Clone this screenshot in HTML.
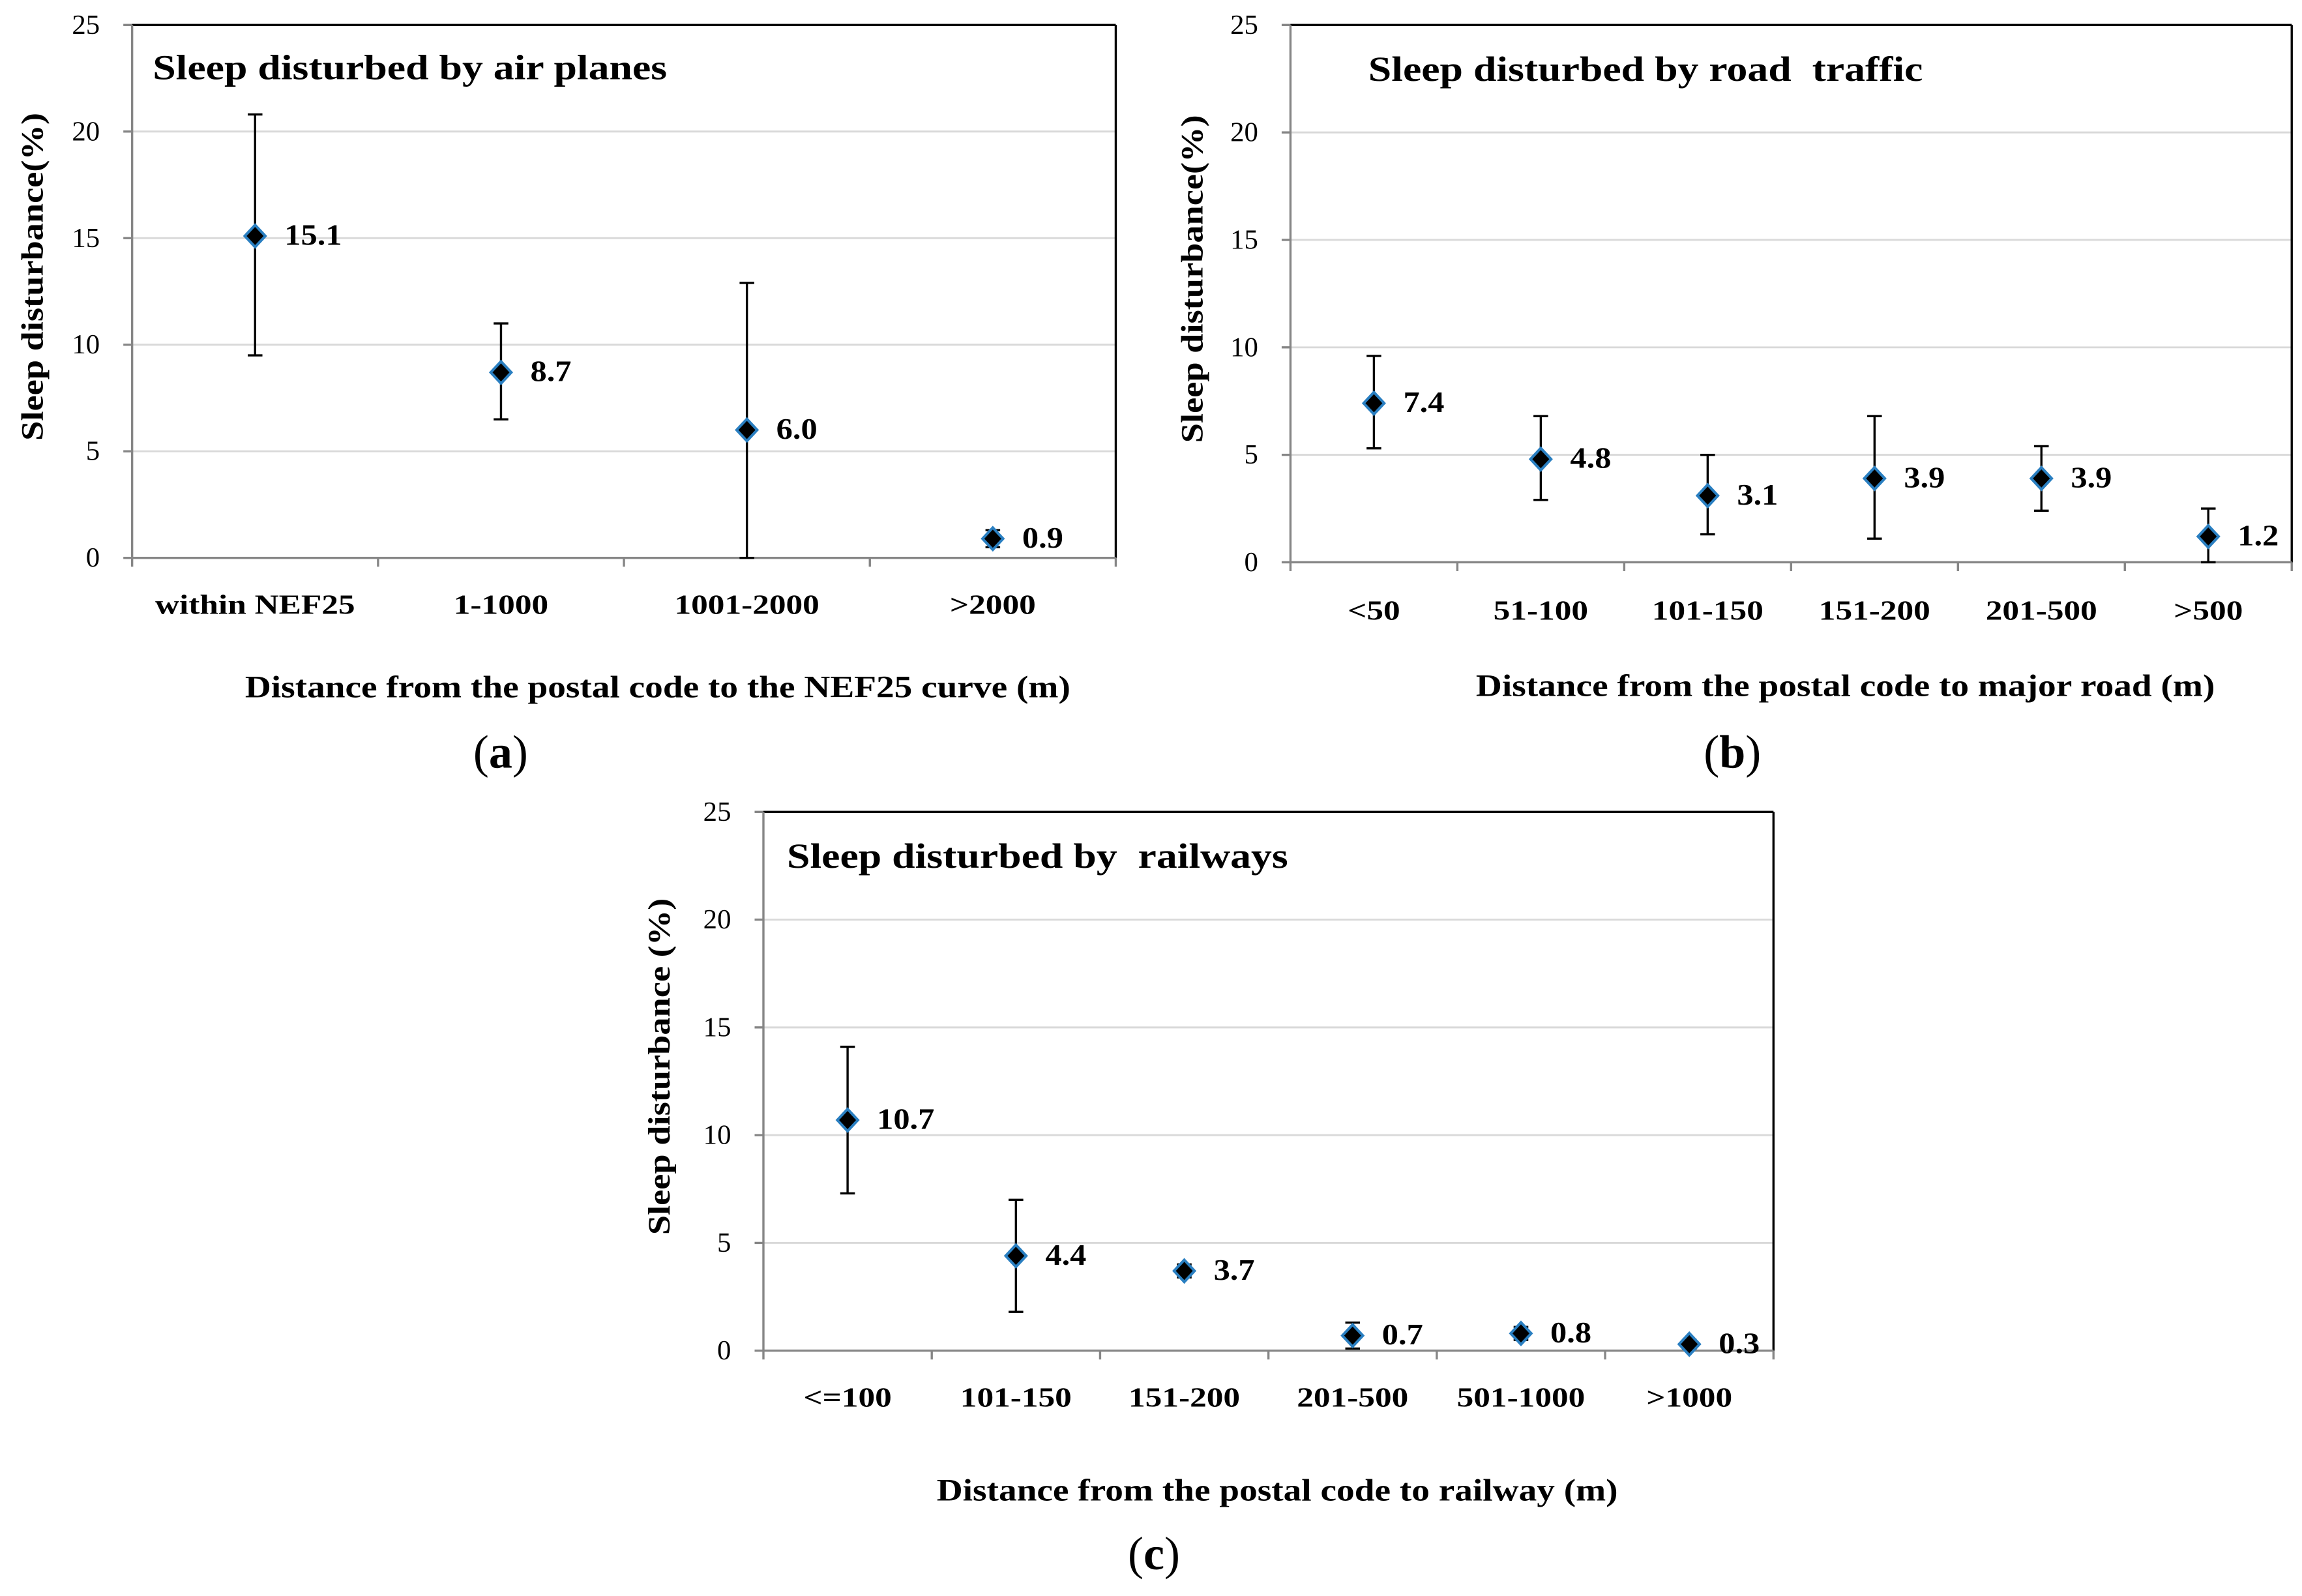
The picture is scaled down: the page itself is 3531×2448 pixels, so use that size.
<!DOCTYPE html>
<html><head><meta charset="utf-8"><style>
html,body{margin:0;padding:0;background:#fff;}
svg{display:block;}
text{font-family:"Liberation Serif",serif;fill:#000;white-space:pre;}
</style></head><body>
<svg id="fig" width="3531" height="2448" viewBox="0 0 1568 1087.1" preserveAspectRatio="none" xmlns="http://www.w3.org/2000/svg"></svg>
<script>
// Panel (a) data
const catsA = ["within NEF25","1-1000","1001-2000",">2000"];
const valsA = [15.1, 8.7, 6.0, 0.9];
const lowA = [9.5, 6.5, 0, 0.5];
const highA = [20.8, 11.0, 12.9, 1.3];
const labelsA = ["15.1","8.7","6.0","0.9"];
// Panel (b) data
const catsB = ["<50","51-100","101-150","151-200","201-500",">500"];
const valsB = [7.4, 4.8, 3.1, 3.9, 3.9, 1.2];
const lowB = [5.3, 2.9, 1.3, 1.1, 2.4, 0];
const highB = [9.6, 6.8, 5.0, 6.8, 5.4, 2.5];
const labelsB = ["7.4","4.8","3.1","3.9","3.9","1.2"];
// Panel (c) data
const catsC = ["<=100","101-150","151-200","201-500","501-1000",">1000"];
const valsC = [10.7, 4.4, 3.7, 0.7, 0.8, 0.3];
const lowC = [7.3, 1.8, 3.4, 0.1, 0.5, 0.1];
const highC = [14.1, 7.0, 4.0, 1.3, 1.1, 0.5];
const labelsC = ["10.7","4.4","3.7","0.7","0.8","0.3"];
const yTicks = [0,5,10,15,20,25];

const NS="http://www.w3.org/2000/svg";
const svg=document.getElementById('fig');
function el(tag,attrs,parent,txt){const e=document.createElementNS(NS,tag);for(const k in attrs)e.setAttribute(k,attrs[k]);if(txt!==undefined)e.textContent=txt;(parent||svg).appendChild(e);return e;}
function widen(t,f){const w=t.getComputedTextLength();if(w>0){t.setAttribute('textLength',w*f);t.setAttribute('lengthAdjust','spacingAndGlyphs');}}

function panel(id,L,T,R,B,cats,vals,low,high,labels,title,titleX,titleY,yTitle,yTitleX,xTitle,xTitleX,xTitleY,catY,panelLabel,panelX,panelLabelY){
  const g=el('g',{});
  
  
  const ys=v=>B-(v/25)*(B-T);
  const bw=(R-L)/cats.length;
  const xs=i=>L+bw*(i+0.5);
  yTicks.forEach(t=>{
    if(t>0&&t<25){const gl=el('line',{x1:L,x2:R,y1:ys(t),y2:ys(t),stroke:'#d9d9d9','stroke-width':1.3},g);
      }
    el('line',{x1:L-6,x2:L,y1:ys(t),y2:ys(t),stroke:'#868686','stroke-width':1.5},g);
    const tl=el('text',{x:L-22,y:ys(t)+6,'text-anchor':'end','font-size':19},g,String(t));
    
  });
  el('line',{x1:L,x2:R,y1:T,y2:T,stroke:'#000','stroke-width':1.5},g);
  el('line',{x1:R,x2:R,y1:T,y2:B,stroke:'#000','stroke-width':1.5},g);
  const ya=el('line',{x1:L,x2:L,y1:T,y2:B,stroke:'#868686','stroke-width':1.5},g);
  
  const xa=el('line',{x1:L,x2:R,y1:B,y2:B,stroke:'#868686','stroke-width':1.5},g);
  
  for(let i=0;i<=cats.length;i++){el('line',{x1:L+bw*i,x2:L+bw*i,y1:B,y2:B+6,stroke:'#868686','stroke-width':1.5},g);}
  cats.forEach((c,i)=>{
    const t=el('text',{x:xs(i),y:catY,'text-anchor':'middle','font-size':19,'font-weight':'bold'},g,c);
    
    widen(t,1.2);
  });
  vals.forEach((v,i)=>{
    const x=xs(i);
    const eb=el('g',{},g);
    
    el('line',{x1:x,x2:x,y1:ys(low[i]),y2:ys(high[i]),stroke:'#000','stroke-width':1.5},eb);
    el('line',{x1:x-5,x2:x+5,y1:ys(high[i]),y2:ys(high[i]),stroke:'#000','stroke-width':1.5},eb);
    el('line',{x1:x-5,x2:x+5,y1:ys(low[i]),y2:ys(low[i]),stroke:'#000','stroke-width':1.5},eb);
    const y=ys(v);
    const m=el('polygon',{points:`${x},${y-7.5} ${x+7},${y} ${x},${y+7.5} ${x-7},${y}`,fill:'#000',stroke:'#2a7fc1','stroke-width':1.8},g);
    
    const lb=el('text',{x:x+20,y:y+6,'font-size':20,'font-weight':'bold'},g,labels[i]);
    
    widen(lb,1.12);
  });
  const tt=el('text',{x:titleX,y:titleY,'font-size':24,'font-weight':'bold'},g,title);
  
  widen(tt,1.18);
  const yt=el('text',{x:0,y:0,'font-size':21,'font-weight':'bold','text-anchor':'middle',transform:`translate(${yTitleX},${(T+B)/2-10}) rotate(-90)`},g,yTitle);
  
  widen(yt,1.15);
  const xt=el('text',{x:xTitleX,y:xTitleY,'font-size':21,'font-weight':'bold','text-anchor':'middle'},g,xTitle);
  
  widen(xt,1.17);
  const pl=el('text',{x:panelX,y:panelLabelY,'font-size':32,'text-anchor':'middle'},g);
  
  el('tspan',{},pl,'(');el('tspan',{'font-weight':'bold'},pl,panelLabel);el('tspan',{},pl,')');
}
panel('a',90,17,760,380,catsA,valsA,lowA,highA,labelsA,"Sleep disturbed by air planes",104,54,"Sleep disturbance(%)",29,"Distance from the postal code to the NEF25 curve (m)",448,475,418,'a',341,523);
panel('b',879,17,1561,383,catsB,valsB,lowB,highB,labelsB,"Sleep disturbed by road  traffic",932,55,"Sleep disturbance(%)",819,"Distance from the postal code to major road (m)",1257,474,422,'b',1180,523);
panel('c',520,553,1208,920,catsC,valsC,lowC,highC,labelsC,"Sleep disturbed by  railways",536,591,"Sleep disturbance (%)",456,"Distance from the postal code to railway (m)",870,1022,958,'c',786,1069);
</script>
</body></html>
